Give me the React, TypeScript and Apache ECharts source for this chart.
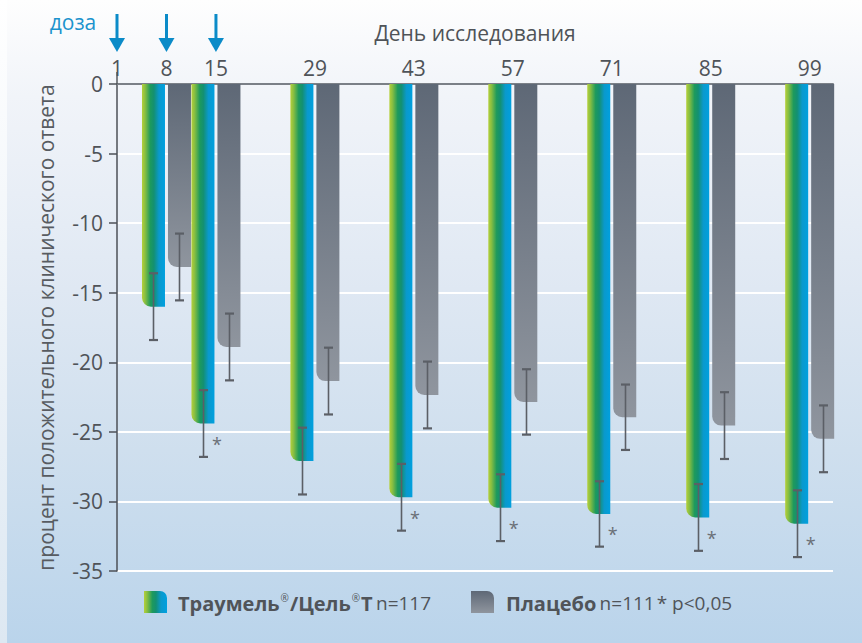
import React, { useEffect, useRef } from "react";
import * as echarts from "echarts";

// ---- data ----
const days = [1, 8, 15, 29, 43, 57, 71, 85, 99];
const barDays = [8, 15, 29, 43, 57, 71, 85, 99];
const doseDays = [1, 8, 15];
const traumelValues = [-16.0, -24.4, -27.1, -29.7, -30.45, -30.9, -31.15, -31.6];
const traumelErrors = [2.4, 2.4, 2.4, 2.4, 2.4, 2.35, 2.4, 2.4];
const placeboValues = [-13.15, -18.9, -21.35, -22.35, -22.85, -23.95, -24.55, -25.5];
const placeboErrors = [2.4, 2.4, 2.4, 2.4, 2.35, 2.35, 2.4, 2.4];
const significant = [0, 1, 0, 1, 1, 1, 1, 1];
const yTicks = { min: -35, max: 0, interval: 5 };

const FONT = "'Open Sans', 'Noto Sans', sans-serif";
const TEXT = "#4f5358";
const ERR = "#5b5f66";

const greenGrad = () =>
  new echarts.graphic.LinearGradient(0, 0, 1, 0, [
    { offset: 0, color: "#b5d03a" },
    { offset: 0.14, color: "#86bd42" },
    { offset: 0.36, color: "#1e9a5c" },
    { offset: 0.52, color: "#139072" },
    { offset: 0.74, color: "#0a99cc" },
    { offset: 1, color: "#00a0df" },
  ]);
const grayGrad = () =>
  new echarts.graphic.LinearGradient(0, 0, 0, 1, [
    { offset: 0, color: "#5e6876" },
    { offset: 1, color: "#8f959e" },
  ]);

function errSeries(values: number[], errors: number[], offset: number, stars: boolean) {
  return {
    type: "custom",
    z: 5,
    data: barDays.map((d, i) => [d, values[i], errors[i], stars ? significant[i] : 0]),
    encode: { x: 0, y: 1 },
    renderItem: (_p: any, api: any) => {
      const d = api.value(0);
      const v = api.value(1);
      const e = api.value(2);
      const s = api.value(3);
      const top = api.coord([d, v + e]);
      const bot = api.coord([d, v - e]);
      const x = Math.round(top[0] + offset) + 0.5;
      const children: any[] = [
        { type: "line", shape: { x1: x, y1: top[1], x2: x, y2: bot[1] }, style: { stroke: ERR, lineWidth: 1.6 } },
        { type: "line", shape: { x1: x - 4.5, y1: top[1], x2: x + 4.5, y2: top[1] }, style: { stroke: ERR, lineWidth: 2.2 } },
        { type: "line", shape: { x1: x - 4.5, y1: bot[1], x2: x + 4.5, y2: bot[1] }, style: { stroke: ERR, lineWidth: 2.2 } },
      ];
      if (s) {
        children.push({
          type: "text",
          style: {
            text: "*",
            x: top[0] + 1,
            y: bot[1] - 13,
            fill: "#6a6f76",
            font: `18px ${FONT}`,
            align: "center",
            verticalAlign: "middle",
          },
        });
      }
      return { type: "group", children };
    },
  };
}

export default function App() {
  const ref = useRef<HTMLDivElement>(null);
  useEffect(() => {
    document.body.style.margin = "0";
    const chart = echarts.init(ref.current!, undefined, { renderer: "svg" });
    const option: any = {
      animation: false,
      backgroundColor: new echarts.graphic.LinearGradient(0, 0, 0, 1, [
        { offset: 0, color: "#fefefe" },
        { offset: 0.15, color: "#f1f4f9" },
        { offset: 0.45, color: "#dfe8f3" },
        { offset: 0.7, color: "#cfdfee" },
        { offset: 1, color: "#bad4eb" },
      ]),
      textStyle: { fontFamily: FONT },
      grid: { left: 117, right: 29, top: 84, bottom: 72, containLabel: false },
      xAxis: {
        type: "value",
        position: "top",
        min: 1,
        max: 102.3,
        name: "День исследования",
        nameLocation: "middle",
        nameGap: 41,
        nameTextStyle: { color: TEXT, fontSize: 21, fontFamily: FONT },
        axisLine: { show: true, lineStyle: { color: "#7b8087", width: 2 } },
        axisTick: { show: true, customValues: [1], length: 12, lineStyle: { color: "#55595e", width: 1.5 } },
        axisLabel: { customValues: days, color: TEXT, fontSize: 21, fontFamily: FONT, margin: 6 },
        splitLine: { show: false },
      },
      yAxis: {
        type: "value",
        min: yTicks.min,
        max: yTicks.max,
        interval: yTicks.interval,
        name: "процент положительного клинического ответа",
        nameLocation: "middle",
        nameRotate: 90,
        nameGap: 61,
        nameTextStyle: { color: "#575b61", fontSize: 21, fontFamily: FONT },
        axisLine: { show: true, lineStyle: { color: "#4d5157", width: 1.5 } },
        axisTick: { show: true, length: 8, lineStyle: { color: "#4d5157", width: 1.5 } },
        axisLabel: { color: TEXT, fontSize: 21, fontFamily: FONT, margin: 14 },
        splitLine: { show: true, lineStyle: { color: "#ffffff", width: 2 } },
      },
      series: [
        {
          type: "bar",
          name: "Траумель®/Цель®Т",
          data: barDays.map((d, i) => [d, traumelValues[i]]),
          barWidth: 23,
          barGap: "13%",
          itemStyle: { color: greenGrad(), borderRadius: [0, 0, 0, 9] },
        },
        {
          type: "bar",
          name: "Плацебо",
          data: barDays.map((d, i) => [d, placeboValues[i]]),
          barWidth: 23,
          barGap: "13%",
          itemStyle: { color: grayGrad(), borderRadius: [0, 0, 0, 9] },
        },
        errSeries(traumelValues, traumelErrors, -13, true),
        errSeries(placeboValues, placeboErrors, 13, false),
      ],
    };
    chart.setOption(option);

    const arrows = doseDays.map((d) => {
      const x = chart.convertToPixel({ xAxisIndex: 0 }, d) as number;
      return {
        type: "group",
        children: [
          { type: "line", shape: { x1: x, y1: 14, x2: x, y2: 42 }, style: { stroke: "#0b8bc8", lineWidth: 3 } },
          { type: "polygon", shape: { points: [[x - 8, 38], [x + 8, 38], [x, 52]] }, style: { fill: "#0b8bc8" } },
        ],
      };
    });

    chart.setOption({
      graphic: [
        {
          type: "rect",
          shape: { x: 0, y: 0, width: 7, height: 643 },
          style: {
            fill: new echarts.graphic.LinearGradient(0, 0, 0, 1, [
              { offset: 0, color: "#ffffff" },
              { offset: 1, color: "#dde8f2" },
            ]),
          },
          silent: true,
        },
        {
          type: "text",
          style: { text: "доза", x: 73, y: 22, fill: "#1b93cd", font: `21px ${FONT}`, align: "center", verticalAlign: "middle" },
        },
        ...arrows,
        {
          type: "rect",
          shape: { x: 144, y: 591, width: 23, height: 22, r: [0, 7, 0, 0] },
          style: { fill: greenGrad() },
        },
        {
          type: "text",
          style: {
            x: 178,
            y: 603,
            verticalAlign: "middle",
            text: "{b|Траумель}{s|®}{b|/Цель}{s|®}{b|Т} {n|n=117}",
            rich: {
              b: { fontFamily: FONT, fontWeight: "bold", fontSize: 20, fill: "#505459" },
              s: { fontFamily: FONT, fontSize: 10, fill: "#505459", verticalAlign: "top", padding: [0, 1, 10, 1] },
              n: { fontFamily: FONT, fontSize: 19, fill: "#505459" },
            },
          },
        },
        {
          type: "rect",
          shape: { x: 471, y: 591, width: 23, height: 22, r: [0, 7, 0, 0] },
          style: { fill: grayGrad() },
        },
        {
          type: "text",
          style: {
            x: 506,
            y: 603,
            verticalAlign: "middle",
            text: "{b|Плацебо} {n|n=111}{a|*}{n| p<0,05}",
            rich: {
              b: { fontFamily: FONT, fontWeight: "bold", fontSize: 20, fill: "#505459" },
              n: { fontFamily: FONT, fontSize: 19, fill: "#505459" },
              a: { fontFamily: FONT, fontSize: 19, fill: "#505459", padding: [0, 0, 0, 2] },
            },
          },
        },
      ],
    });

    return () => chart.dispose();
  }, []);
  return <div ref={ref} style={{ position: "fixed", left: 0, top: 0, width: 862, height: 643 }} />;
}
